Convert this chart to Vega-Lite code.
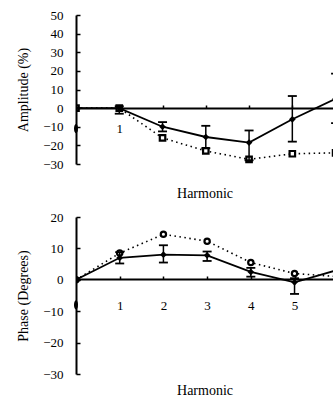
{
  "$schema": "https://vega.github.io/schema/vega-lite/v6.json",
  "background": "white",
  "padding": {"left": 16, "top": 9, "right": 0, "bottom": 0},
  "spacing": 11,
  "datasets": {
    "amp": [
      {"h": 0, "s": 0, "lo": 0, "hi": 0, "d": 0},
      {"h": 1, "s": 0, "lo": -3, "hi": 1, "d": 0},
      {"h": 2, "s": -10, "lo": -12.5, "hi": -7.5, "d": -16},
      {"h": 3, "s": -15.5, "lo": -21.5, "hi": -9.5, "d": -23},
      {"h": 4, "s": -18.5, "lo": -28, "hi": -12, "d": -27.5},
      {"h": 5, "s": -6, "lo": -18, "hi": 6.5, "d": -24.5},
      {"h": 6, "s": 5, "lo": -8, "hi": 18.5, "d": -24}
    ],
    "ampExtra": [{"h": 0, "v": -11}],
    "phase": [
      {"h": 0, "s": 0, "lo": 0, "hi": 0, "d": 0},
      {"h": 1, "s": 7, "lo": 5.2, "hi": 8.8, "d": 8.5},
      {"h": 2, "s": 8, "lo": 5.5, "hi": 11, "d": 14.5},
      {"h": 3, "s": 7.8, "lo": 6, "hi": 9, "d": 12.3},
      {"h": 4, "s": 2.5, "lo": 1, "hi": 3.8, "d": 5.5},
      {"h": 5, "s": -0.8, "lo": -4.5, "hi": 0.5, "d": 2},
      {"h": 6, "s": 3.2, "lo": 1.5, "hi": 5, "d": 1}
    ],
    "phaseExtra": [{"h": 0, "v": -8}]
  },
  "vconcat": [
    {
      "width": 257,
      "height": 149,
      "encoding": {
        "x": {"field": "h", "type": "quantitative",
          "scale": {"domain": [0, 5.94], "nice": false, "zero": false},
          "axis": {"title": "Harmonic", "offset": -56, "values": [1, 2, 3, 4, 5, 6], "labelOverlap": false,
            "labelExpr": "datum.value == 1 ? '1' : ''", "tickSize": -3, "labelPadding": 17,
            "domainWidth": 2, "titleY": 85, "titleBaseline": "middle"}}
      },
      "layer": [
        {
          "data": {"name": "amp"},
          "mark": {"type": "line", "color": "black", "strokeWidth": 1.6, "strokeDash": [1.5, 3.5], "clip": true},
          "encoding": {
            "y": {"field": "d", "type": "quantitative", "scale": {"domain": [-30, 50], "nice": false, "zero": false},
              "axis": {"title": "Amplitude (%)", "values": [-30, -20, -10, 0, 10, 20, 30, 40, 50], "labelOverlap": false, "tickSize": -4, "labelPadding": 17, "domainWidth": 2, "titlePadding": 12}}
          }
        },
        {
          "data": {"name": "amp"},
          "mark": {"type": "point", "shape": "square", "filled": false, "fill": "white", "stroke": "black", "strokeWidth": 2.2, "size": 30, "opacity": 1, "clip": true},
          "encoding": {
            "y": {"field": "d", "type": "quantitative",
              "axis": {"title": "Amplitude (%)", "values": [-30, -20, -10, 0, 10, 20, 30, 40, 50], "labelOverlap": false, "tickSize": -4, "labelPadding": 17, "domainWidth": 2, "titlePadding": 12}}
          }
        },
        {
          "data": {"name": "amp"},
          "mark": {"type": "rule", "color": "black", "strokeWidth": 1.5, "clip": true},
          "encoding": {
            "y": {"field": "lo", "type": "quantitative",
              "axis": {"title": "Amplitude (%)", "values": [-30, -20, -10, 0, 10, 20, 30, 40, 50], "labelOverlap": false, "tickSize": -4, "labelPadding": 17, "domainWidth": 2, "titlePadding": 12}},
            "y2": {"field": "hi"}
          }
        },
        {
          "data": {"name": "amp"},
          "mark": {"type": "tick", "orient": "horizontal", "color": "black", "size": 9, "thickness": 1.8, "opacity": 1, "clip": true},
          "encoding": {
            "y": {"field": "lo", "type": "quantitative",
              "axis": {"title": "Amplitude (%)", "values": [-30, -20, -10, 0, 10, 20, 30, 40, 50], "labelOverlap": false, "tickSize": -4, "labelPadding": 17, "domainWidth": 2, "titlePadding": 12}}
          }
        },
        {
          "data": {"name": "amp"},
          "mark": {"type": "tick", "orient": "horizontal", "color": "black", "size": 9, "thickness": 1.8, "opacity": 1, "clip": true},
          "encoding": {
            "y": {"field": "hi", "type": "quantitative",
              "axis": {"title": "Amplitude (%)", "values": [-30, -20, -10, 0, 10, 20, 30, 40, 50], "labelOverlap": false, "tickSize": -4, "labelPadding": 17, "domainWidth": 2, "titlePadding": 12}}
          }
        },
        {
          "data": {"name": "amp"},
          "mark": {"type": "line", "color": "black", "strokeWidth": 1.8, "clip": true},
          "encoding": {
            "y": {"field": "s", "type": "quantitative",
              "axis": {"title": "Amplitude (%)", "values": [-30, -20, -10, 0, 10, 20, 30, 40, 50], "labelOverlap": false, "tickSize": -4, "labelPadding": 17, "domainWidth": 2, "titlePadding": 12}}
          }
        },
        {
          "data": {"name": "amp"},
          "mark": {"type": "point", "shape": "diamond", "filled": true, "color": "black", "size": 45, "opacity": 1, "clip": true},
          "encoding": {
            "y": {"field": "s", "type": "quantitative",
              "axis": {"title": "Amplitude (%)", "values": [-30, -20, -10, 0, 10, 20, 30, 40, 50], "labelOverlap": false, "tickSize": -4, "labelPadding": 17, "domainWidth": 2, "titlePadding": 12}}
          }
        },
        {
          "data": {"name": "ampExtra"},
          "mark": {"type": "point", "shape": "M0,-1.3C0.75,-1.3 0.75,1.3 0,1.3C-0.75,1.3 -0.75,-1.3 0,-1.3Z", "filled": true, "color": "black", "size": 50, "opacity": 1},
          "encoding": {
            "y": {"field": "v", "type": "quantitative",
              "axis": {"title": "Amplitude (%)", "values": [-30, -20, -10, 0, 10, 20, 30, 40, 50], "labelOverlap": false, "tickSize": -4, "labelPadding": 17, "domainWidth": 2, "titlePadding": 12}}
          }
        }
      ]
    },
    {
      "width": 257,
      "height": 157,
      "encoding": {
        "x": {"field": "h", "type": "quantitative",
          "scale": {"domain": [0, 5.88], "nice": false, "zero": false},
          "axis": {"title": "Harmonic", "offset": -95, "values": [1, 2, 3, 4, 5, 6], "labelOverlap": false,
            "labelExpr": "datum.value < 6 ? datum.label : ''", "tickSize": -3, "labelPadding": 23,
            "domainWidth": 2, "titleY": 111, "titleBaseline": "middle"}}
      },
      "layer": [
        {
          "data": {"name": "phase"},
          "mark": {"type": "line", "color": "black", "strokeWidth": 1.6, "strokeDash": [1.5, 3.5], "clip": true},
          "encoding": {
            "y": {"field": "d", "type": "quantitative", "scale": {"domain": [-30, 20], "nice": false, "zero": false},
              "axis": {"title": "Phase (Degrees)", "values": [-30, -20, -10, 0, 10, 20], "labelOverlap": false, "tickSize": -4, "labelPadding": 17, "domainWidth": 2, "titlePadding": 12}}
          }
        },
        {
          "data": {"name": "phase"},
          "mark": {"type": "point", "shape": "circle", "filled": false, "fill": "white", "stroke": "black", "strokeWidth": 2.2, "size": 28, "opacity": 1, "clip": true},
          "encoding": {
            "y": {"field": "d", "type": "quantitative",
              "axis": {"title": "Phase (Degrees)", "values": [-30, -20, -10, 0, 10, 20], "labelOverlap": false, "tickSize": -4, "labelPadding": 17, "domainWidth": 2, "titlePadding": 12}}
          }
        },
        {
          "data": {"name": "phase"},
          "mark": {"type": "rule", "color": "black", "strokeWidth": 1.5, "clip": true},
          "encoding": {
            "y": {"field": "lo", "type": "quantitative",
              "axis": {"title": "Phase (Degrees)", "values": [-30, -20, -10, 0, 10, 20], "labelOverlap": false, "tickSize": -4, "labelPadding": 17, "domainWidth": 2, "titlePadding": 12}},
            "y2": {"field": "hi"}
          }
        },
        {
          "data": {"name": "phase"},
          "mark": {"type": "tick", "orient": "horizontal", "color": "black", "size": 9, "thickness": 1.8, "opacity": 1, "clip": true},
          "encoding": {
            "y": {"field": "lo", "type": "quantitative",
              "axis": {"title": "Phase (Degrees)", "values": [-30, -20, -10, 0, 10, 20], "labelOverlap": false, "tickSize": -4, "labelPadding": 17, "domainWidth": 2, "titlePadding": 12}}
          }
        },
        {
          "data": {"name": "phase"},
          "mark": {"type": "tick", "orient": "horizontal", "color": "black", "size": 9, "thickness": 1.8, "opacity": 1, "clip": true},
          "encoding": {
            "y": {"field": "hi", "type": "quantitative",
              "axis": {"title": "Phase (Degrees)", "values": [-30, -20, -10, 0, 10, 20], "labelOverlap": false, "tickSize": -4, "labelPadding": 17, "domainWidth": 2, "titlePadding": 12}}
          }
        },
        {
          "data": {"name": "phase"},
          "mark": {"type": "line", "color": "black", "strokeWidth": 1.8, "clip": true},
          "encoding": {
            "y": {"field": "s", "type": "quantitative",
              "axis": {"title": "Phase (Degrees)", "values": [-30, -20, -10, 0, 10, 20], "labelOverlap": false, "tickSize": -4, "labelPadding": 17, "domainWidth": 2, "titlePadding": 12}}
          }
        },
        {
          "data": {"name": "phase"},
          "mark": {"type": "point", "shape": "diamond", "filled": true, "color": "black", "size": 45, "opacity": 1, "clip": true},
          "encoding": {
            "y": {"field": "s", "type": "quantitative",
              "axis": {"title": "Phase (Degrees)", "values": [-30, -20, -10, 0, 10, 20], "labelOverlap": false, "tickSize": -4, "labelPadding": 17, "domainWidth": 2, "titlePadding": 12}}
          }
        },
        {
          "data": {"name": "phaseExtra"},
          "mark": {"type": "point", "shape": "M0,-1.3C0.75,-1.3 0.75,1.3 0,1.3C-0.75,1.3 -0.75,-1.3 0,-1.3Z", "filled": true, "color": "black", "size": 50, "opacity": 1},
          "encoding": {
            "y": {"field": "v", "type": "quantitative",
              "axis": {"title": "Phase (Degrees)", "values": [-30, -20, -10, 0, 10, 20], "labelOverlap": false, "tickSize": -4, "labelPadding": 17, "domainWidth": 2, "titlePadding": 12}}
          }
        }
      ]
    }
  ],
  "config": {
    "view": {"stroke": null},
    "axis": {
      "grid": false,
      "labelOverlap": false, "labelFlush": false,
      "labelFont": "Liberation Serif", "titleFont": "Liberation Serif",
      "labelFontSize": 13, "titleFontSize": 14, "titleFontWeight": "normal",
      "labelColor": "black", "titleColor": "black",
      "domainColor": "black", "tickColor": "black", "tickWidth": 1.5
    }
  }
}
